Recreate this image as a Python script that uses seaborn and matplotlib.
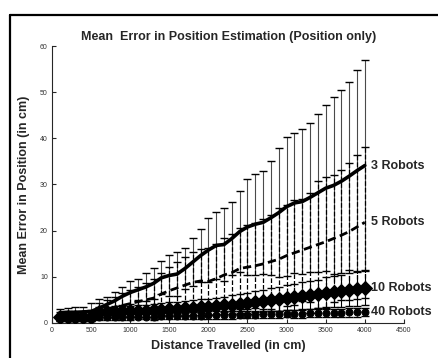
import numpy as np
import pandas as pd
import matplotlib
matplotlib.use("Agg")
import matplotlib.pyplot as plt
from matplotlib.lines import Line2D
import seaborn as sns

# Distance travelled (cm)
distance = list(range(100, 4001, 100))

# Mean position error (cm) and standard deviation for each team size
mean_3 = [2.2, 2.3, 2.3, 2.4, 2.5, 3.2, 4.0, 4.8, 5.8, 6.6,
          7.2, 7.8, 8.6, 9.8, 10.3, 10.6, 11.8, 13.2, 14.6, 15.8,
          16.8, 17.0, 18.3, 19.8, 20.8, 21.4, 21.8, 22.8, 23.9, 25.2,
          26.0, 26.3, 27.2, 28.2, 29.2, 29.8, 30.7, 31.8, 33.0, 34.1]
std_3 = [0.8, 1.0, 1.1, 1.1, 1.8, 2.0, 1.6, 1.9, 2.0, 2.5,
         2.3, 3.0, 3.3, 3.6, 4.5, 4.7, 4.4, 5.2, 5.8, 6.9,
         7.2, 7.9, 7.9, 8.8, 10.4, 10.9, 11.1, 12.3, 14.0, 15.1,
         15.2, 15.7, 16.1, 17.1, 18.0, 19.1, 19.8, 20.4, 21.8, 22.9]

mean_5 = [1.4, 1.5, 1.5, 1.6, 1.7, 2.6, 3.0, 3.4, 3.8, 4.2,
          4.6, 5.0, 5.4, 6.3, 7.0, 7.6, 8.2, 8.8, 9.1, 9.0,
          9.6, 10.4, 10.9, 11.8, 12.1, 12.4, 12.8, 13.3, 13.8, 14.6,
          15.2, 15.8, 16.4, 17.0, 17.6, 18.3, 19.0, 19.8, 20.8, 21.8]
std_5 = [1.0, 1.0, 1.1, 1.1, 1.2, 1.8, 2.0, 2.3, 2.6, 3.0,
         3.3, 3.7, 4.1, 4.6, 5.2, 5.6, 6.0, 6.5, 6.9, 7.2,
         7.6, 8.0, 8.4, 8.8, 9.1, 9.2, 9.7, 10.2, 11.1, 11.0,
         11.4, 11.1, 11.8, 13.8, 14.1, 13.7, 14.1, 14.8, 15.5, 16.3]

mean_10 = [1.3, 1.3, 1.3, 1.3, 1.3, 2.3, 2.4, 2.4, 2.5, 2.5,
           2.6, 2.7, 2.8, 2.9, 3.0, 3.1, 3.2, 3.3, 3.4, 3.5,
           3.6, 3.8, 4.0, 4.2, 4.4, 4.6, 4.8, 5.0, 5.2, 5.5,
           5.7, 5.9, 6.1, 6.3, 6.6, 6.8, 7.0, 7.2, 7.4, 7.6]
std_10 = [0.7, 0.7, 0.7, 0.7, 0.7, 1.1, 1.1, 1.2, 1.2, 1.2,
          1.3, 1.3, 1.4, 1.4, 1.5, 1.5, 1.6, 1.6, 1.7, 1.7,
          1.8, 1.9, 2.0, 2.1, 2.2, 2.3, 2.4, 2.5, 2.6, 2.7,
          2.8, 2.9, 3.0, 3.1, 3.3, 3.4, 3.5, 3.6, 3.7, 3.8]

mean_40 = [0.9, 0.9, 0.9, 0.9, 0.9, 1.2, 1.2, 1.3, 1.3, 1.3,
           1.4, 1.4, 1.4, 1.5, 1.5, 1.5, 1.6, 1.6, 1.6, 1.7,
           1.7, 1.7, 1.7, 1.8, 1.8, 1.8, 1.9, 1.9, 1.9, 2.0,
           2.0, 2.0, 2.1, 2.1, 2.1, 2.2, 2.2, 2.3, 2.3, 2.4]
std_40 = [0.5, 0.5, 0.5, 0.5, 0.5, 0.6, 0.6, 0.6, 0.6, 0.6,
          0.6, 0.6, 0.7, 0.7, 0.7, 0.7, 0.7, 0.7, 0.7, 0.8,
          0.8, 0.8, 0.8, 0.8, 0.8, 0.8, 0.8, 0.8, 0.8, 0.8,
          0.9, 0.9, 0.9, 0.9, 0.9, 0.9, 0.9, 0.9, 0.9, 0.9]

team_labels = ["3 Robots", "5 Robots", "10 Robots", "40 Robots"]
x_ticks = list(range(0, 4501, 500))
y_ticks = list(range(0, 61, 10))

sns.set_style("ticks", {"xtick.direction": "in", "ytick.direction": "in"})
plt.rcParams["font.family"] = ["Liberation Sans", "DejaVu Sans"]

fig = plt.figure(figsize=(4.39, 3.58), dpi=100)
ax = fig.add_axes([0.1185, 0.0978, 0.8015, 0.7737])

series = [
    (team_labels[0], mean_3, std_3, dict(ls="-", lw=2.6, marker=None, ms=0), "-", 0.8, "#4a4a4a"),
    (team_labels[1], mean_5, std_5, dict(ls=(0, (3, 1.6)), lw=2.0, marker=None, ms=0), "--", 0.9, "black"),
    (team_labels[2], mean_10, std_10, dict(ls="-.", lw=1.0, marker="D", ms=7.5), "-.", 0.8, "black"),
    (team_labels[3], mean_40, std_40, dict(ls=":", lw=1.0, marker="o", ms=5.0), ":", 0.8, "black"),
]

for name, mean, std, style, bar_ls, bar_lw, bar_col in series:
    df = pd.DataFrame({"distance": distance, "error": mean})
    eb = ax.errorbar(distance, mean, yerr=std, fmt="none", ecolor="black",
                     elinewidth=bar_lw, capsize=2.6, capthick=1.0, zorder=2)
    eb[2][0].set_linestyle(bar_ls)
    eb[2][0].set_color(bar_col)
    sns.lineplot(data=df, x="distance", y="error", ax=ax, color="black",
                 linestyle=style["ls"], linewidth=style["lw"],
                 marker=style["marker"], markersize=style["ms"],
                 markeredgecolor="black", markerfacecolor="black",
                 zorder=3, legend=False)
    ax.text(distance[-1] + 75, mean[-1], name, ha="left", va="center",
            fontsize=9, fontweight="bold")

ax.set_xlim(0, 4500)
ax.set_ylim(0, 60)
ax.set_xticks(x_ticks)
ax.set_yticks(y_ticks)
ax.tick_params(axis="both", labelsize=5, labelcolor="#333333", length=3,
               width=0.8, direction="in", pad=3)
for side in ("top", "right"):
    ax.spines[side].set_visible(False)
for side in ("left", "bottom"):
    ax.spines[side].set_linewidth(0.8)

ax.set_xlabel("Distance Travelled (in cm)", fontsize=9, fontweight="bold", labelpad=4)
ax.set_ylabel("Mean Error in Position (in cm)", fontsize=9, fontweight="bold", labelpad=7)
fig.text(229 / 439, 1 - 37 / 358, "Mean  Error in Position Estimation (Position only)",
         ha="center", va="center", fontsize=9, fontweight="bold")

# Window frame on the left and top edges
fig.add_artist(Line2D([10 / 439, 10 / 439], [0, 1 - 15 / 358], color="black", lw=1.6,
                      transform=fig.transFigure))
fig.add_artist(Line2D([10 / 439, 1], [1 - 15 / 358, 1 - 15 / 358], color="black", lw=1.6,
                      transform=fig.transFigure))

fig.savefig("out.png", dpi=100)
